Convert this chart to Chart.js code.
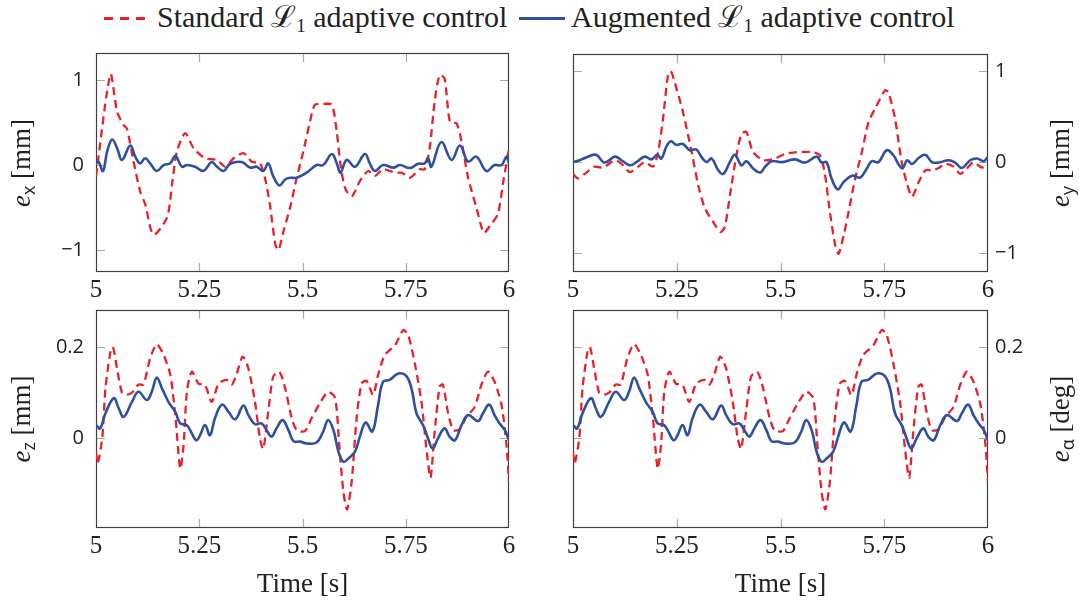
<!DOCTYPE html>
<html>
<head>
<meta charset="utf-8">
<script src="https://cdn.jsdelivr.net/npm/chart.js@4.4.1/dist/chart.umd.min.js"></script>
<style>
  body { margin: 0; width: 1079px; height: 605px; position: relative; overflow: hidden; background: #fff;
         font-family: "Liberation Serif", "DejaVu Serif", serif; color: #222; }
  canvas { position: absolute; }
  .ylab { position: absolute; font-size: 27px; white-space: nowrap; line-height: 1;
          transform: translate(-50%, -50%) rotate(-90deg); }
  .ylab i { font-style: italic; }
  .ylab sub { font-size: 18px; font-family: "Open Sans", sans-serif; vertical-align: -5px; }
  .leg { position: absolute; top: 1px; font-size: 30px; line-height: 32px; white-space: nowrap; }
  .leg sub { font-size: 19px; vertical-align: -5px; }
  .sw { position: absolute; top: 17px; height: 3px; }
  .sw.red { left: 104px; width: 42px; background: repeating-linear-gradient(to right, #e8202a 0 9px, transparent 9px 16px); }
  .sw.blue { left: 519px; width: 46px; background: #2f4fa0; }
</style>
</head>
<body>
<span class="sw red"></span>
<span class="leg" style="left:157px">Standard ℒ<sub>1</sub> adaptive control</span>
<span class="sw blue"></span>
<span class="leg" style="left:571px">Augmented ℒ<sub>1</sub> adaptive control</span>

<canvas id="pTL" width="530" height="287" style="left:0px;top:23px"></canvas>
<canvas id="pTR" width="530" height="286" style="left:549px;top:24px"></canvas>
<canvas id="pBL" width="530" height="325" style="left:0px;top:280px"></canvas>
<canvas id="pBR" width="530" height="325" style="left:549px;top:280px"></canvas>

<span class="ylab" style="left:22px;top:163px"><i>e</i><sub>x</sub> [mm]</span>
<span class="ylab" style="left:1061px;top:163px"><i>e</i><sub>y</sub> [mm]</span>
<span class="ylab" style="left:22px;top:419px"><i>e</i><sub>z</sub> [mm]</span>
<span class="ylab" style="left:1061px;top:419px"><i>e</i><sub>α</sub> [deg]</span>

<script>
const xTicks = [5, 5.25, 5.5, 5.75, 6];
const posTicks = [-1, 0, 1];
const angTicks = [0, 0.2];

// e_x
const exStdT = [5.000,5.035,5.051,5.067,5.075,5.091,5.107,5.119,5.139,5.172,5.184,5.196,5.216,5.236,5.264,5.293,5.313,5.333,5.357,5.377,5.397,5.409,5.421,5.434,5.442,5.454,5.470,5.486,5.502,5.518,5.530,5.550,5.571,5.583,5.591,5.603,5.619,5.639,5.659,5.675,5.695,5.724,5.740,5.760,5.784,5.796,5.808,5.820,5.832,5.844,5.857,5.873,5.885,5.901,5.921,5.939,5.953,5.973,5.985,6.000];
const exStdV = [-0.13,1.07,0.63,0.47,0.43,0.04,-0.31,-0.46,-0.82,-0.62,-0.23,0.16,0.375,0.2,0.08,0.06,-0.02,0.08,0.14,0.04,0.02,-0.15,-0.46,-0.93,-1.0,-0.78,-0.5,-0.15,0.16,0.51,0.71,0.72,0.71,0.39,0.04,-0.27,-0.37,-0.19,-0.07,-0.13,-0.05,-0.09,-0.09,-0.15,-0.05,-0.05,0.2,0.75,1.06,1.02,0.51,0.49,0.28,-0.15,-0.5,-0.8,-0.72,-0.58,-0.23,0.2];
const exAugT = [5.000,5.006,5.017,5.027,5.039,5.051,5.063,5.083,5.095,5.107,5.119,5.131,5.147,5.164,5.180,5.192,5.208,5.220,5.240,5.260,5.280,5.293,5.309,5.325,5.353,5.373,5.389,5.405,5.417,5.429,5.444,5.458,5.470,5.486,5.510,5.534,5.550,5.571,5.583,5.592,5.607,5.627,5.651,5.663,5.675,5.695,5.720,5.736,5.760,5.780,5.796,5.804,5.812,5.836,5.861,5.881,5.901,5.921,5.945,5.965,5.982,5.994,6.000];
const exAugV = [0.02,0.04,-0.07,0.16,0.3,0.2,0.06,0.23,0.1,0.02,0.08,0.02,-0.07,0.0,0.02,0.11,-0.02,0,-0.02,-0.07,0.035,-0.02,-0.07,0.015,0.035,-0.03,-0.02,-0.07,0.02,-0.13,-0.24,-0.17,-0.15,-0.15,-0.09,0,0,0.13,0.02,-0.09,0.06,-0.02,0.13,0.02,-0.07,0,-0.03,0,-0.035,0.015,0.02,0.08,-0.02,0.27,0.06,0.23,0.04,0.1,-0.07,0,0,0.1,0.02];

// e_y
const eyStdT = [5.000,5.012,5.028,5.052,5.072,5.101,5.117,5.137,5.157,5.173,5.193,5.205,5.217,5.229,5.236,5.245,5.265,5.286,5.302,5.318,5.338,5.356,5.366,5.378,5.394,5.406,5.418,5.434,5.459,5.487,5.511,5.543,5.575,5.595,5.607,5.619,5.632,5.640,5.652,5.664,5.680,5.696,5.712,5.728,5.752,5.760,5.776,5.792,5.805,5.817,5.833,5.849,5.865,5.881,5.897,5.917,5.933,5.949,5.965,5.981,6.000];
const eyStdV = [-0.13,-0.18,-0.13,-0.05,-0.06,0.02,-0.02,-0.11,-0.05,0,-0.05,0.11,0.48,0.96,1.0,0.88,0.55,0.11,-0.26,-0.51,-0.66,-0.77,-0.71,-0.37,0.08,0.31,0.33,0.11,0.02,0.04,0.09,0.11,0.11,0.075,-0.13,-0.55,-0.92,-1.01,-0.81,-0.55,-0.18,0.11,0.44,0.59,0.79,0.77,0.48,0,-0.24,-0.38,-0.22,-0.09,-0.09,-0.065,-0.02,-0.05,-0.13,-0.07,0,-0.05,-0.08];
const eyAugT = [5.000,5.016,5.036,5.056,5.076,5.101,5.117,5.137,5.153,5.173,5.189,5.203,5.213,5.225,5.236,5.249,5.265,5.281,5.297,5.309,5.322,5.334,5.350,5.362,5.378,5.390,5.406,5.418,5.434,5.451,5.463,5.479,5.503,5.535,5.559,5.587,5.599,5.611,5.623,5.638,5.652,5.672,5.692,5.708,5.720,5.736,5.756,5.772,5.784,5.794,5.805,5.817,5.833,5.849,5.865,5.881,5.905,5.921,5.937,5.957,5.973,5.990,6.000];
const eyAugV = [0,0.02,0.06,0.08,-0.005,0.06,0.02,-0.035,0,0.06,0.03,0.08,0.04,0.17,0.23,0.19,0.2,0.13,0.14,0.06,0,0.04,-0.09,-0.13,0,0.08,-0.035,0.01,-0.07,-0.115,-0.05,0.01,0,0.03,-0.005,0.06,-0.005,0,-0.18,-0.3,-0.22,-0.15,-0.17,-0.07,0.01,0,0.13,0.075,-0.02,-0.07,0.02,-0.02,0.045,0.08,0,-0.005,0.02,-0.005,-0.065,0.02,0.04,0.01,0.06];

// e_z
const ezStdT = [5.000,5.004,5.015,5.023,5.035,5.041,5.051,5.063,5.075,5.087,5.103,5.115,5.131,5.147,5.164,5.180,5.192,5.204,5.212,5.220,5.232,5.248,5.264,5.280,5.297,5.317,5.329,5.341,5.355,5.369,5.385,5.397,5.405,5.417,5.429,5.444,5.458,5.474,5.486,5.506,5.522,5.542,5.562,5.579,5.589,5.599,5.608,5.619,5.631,5.643,5.655,5.671,5.683,5.699,5.724,5.744,5.756,5.772,5.788,5.800,5.810,5.820,5.832,5.840,5.852,5.865,5.881,5.897,5.917,5.933,5.949,5.965,5.982,5.994,6.000];
const ezStdV = [-0.03,-0.055,0,0.11,0.19,0.2,0.153,0.1,0.096,0.1,0.118,0.118,0.175,0.206,0.182,0.139,0.051,-0.066,-0.015,0.102,0.146,0.12,0.117,0.08,0.12,0.128,0.118,0.142,0.179,0.153,0.08,0,-0.023,0.058,0.135,0.146,0.11,0.044,0.018,0.016,0.044,0.077,0.102,0.088,-0.015,-0.117,-0.155,-0.095,0.044,0.12,0.126,0.095,0.139,0.182,0.204,0.237,0.226,0.164,0.08,-0.022,-0.086,0.015,0.113,0.118,0.058,0.018,0.02,0.047,0.069,0.117,0.146,0.124,0.073,-0.015,-0.095];
const ezAugT = [5.000,5.010,5.023,5.043,5.055,5.067,5.087,5.103,5.123,5.135,5.147,5.160,5.176,5.192,5.204,5.220,5.232,5.243,5.252,5.264,5.276,5.288,5.305,5.321,5.337,5.357,5.369,5.385,5.401,5.413,5.425,5.437,5.452,5.466,5.478,5.494,5.510,5.534,5.550,5.562,5.575,5.587,5.599,5.611,5.627,5.639,5.653,5.669,5.683,5.695,5.711,5.732,5.751,5.764,5.776,5.792,5.804,5.815,5.828,5.844,5.856,5.869,5.885,5.901,5.925,5.937,5.952,5.965,5.977,5.990,6.000];
const ezAugV = [0.029,0.022,0.055,0.088,0.066,0.047,0.08,0.102,0.084,0.102,0.133,0.109,0.079,0.058,0.033,0.029,0.011,-0.004,0.007,0.029,0.007,0.044,0.074,0.058,0.042,0.072,0.051,0.031,0.033,0.018,0.004,0.022,0.04,0.018,-0.006,-0.007,-0.011,-0.009,0.015,0.04,0.018,-0.029,-0.051,-0.044,-0.029,0.004,0.035,0.015,0.073,0.124,0.128,0.142,0.137,0.109,0.055,0.029,0,-0.022,0,0.022,0.004,-0.004,0.029,0.051,0.038,0.055,0.074,0.051,0.033,0.018,-0.004];

// e_alpha: the figure shows the same traces as e_z
const eaStdT = ezStdT, eaStdV = ezStdV;
const eaAugT = ezAugT, eaAugV = ezAugV;

const red = '#e8202a';
const blue = '#2f4fa0';
const serif = '"Liberation Serif", "DejaVu Serif", serif';
const sans = '"Open Sans", "Noto Sans", sans-serif';

function pts(ts, vs) {
  return ts.map((t, i) => ({x: t, y: vs[i]}));
}

function minus(v) {
  return v < 0 ? '\u2212' + Math.abs(v) : String(v);
}

// pgfplots-like frame with grey ticks pointing inward on all four sides
const frameTicks = {
  id: 'frameTicks',
  beforeDatasetsDraw(chart) {
    const {ctx, chartArea: a, scales} = chart;
    ctx.save();
    ctx.strokeStyle = '#a8a8a8';
    ctx.lineWidth = 1.2;
    ctx.beginPath();
    scales.x.ticks.forEach(t => {
      if (t.value <= scales.x.min || t.value >= scales.x.max) return;
      const px = Math.round(scales.x.getPixelForValue(t.value)) + 0.5;
      ctx.moveTo(px, a.top); ctx.lineTo(px, a.top + 9);
      ctx.moveTo(px, a.bottom); ctx.lineTo(px, a.bottom - 9);
    });
    scales.y.ticks.forEach(t => {
      const py = Math.round(scales.y.getPixelForValue(t.value)) + 0.5;
      ctx.moveTo(a.left, py); ctx.lineTo(a.left + 9, py);
      ctx.moveTo(a.right, py); ctx.lineTo(a.right - 9, py);
    });
    ctx.stroke();
    ctx.strokeStyle = '#404040';
    ctx.lineWidth = 1.2;
    ctx.strokeRect(a.left + 0.5, a.top + 0.5, a.width - 1, a.height - 1);
    ctx.restore();
  }
};

function makePanel(id, stdT, stdV, augT, augV, yMin, yMax, yTicks, side, bottomRow, pad) {
  return new Chart(id, {
    type: 'line',
    data: {
      datasets: [
        { label: 'Augmented', data: pts(augT, augV), borderColor: blue, borderWidth: 2.6,
          pointRadius: 0, tension: 0.4, order: 0 },
        { label: 'Standard', data: pts(stdT, stdV), borderColor: red, borderWidth: 2.3,
          borderDash: [8, 5], pointRadius: 0, tension: 0.25, order: 1 }
      ]
    },
    options: {
      responsive: false,
      animation: false,
      events: [],
      layout: { padding: pad },
      plugins: { legend: { display: false }, tooltip: { enabled: false } },
      scales: {
        x: {
          type: 'linear', min: 5, max: 6,
          grid: { display: false, drawTicks: false },
          border: { display: false },
          afterBuildTicks: s => { s.ticks = xTicks.map(v => ({value: v})); },
          afterFit: s => { s.height = bottomRow ? 77 : 38; },
          ticks: { font: { family: serif, size: 25 }, color: '#222', padding: 3,
                   maxRotation: 0, autoSkip: false, callback: v => String(v) },
          title: { display: bottomRow, text: 'Time [s]', color: '#222',
                   font: { family: serif, size: 27 }, padding: { top: 0, bottom: 4 } }
        },
        y: {
          type: 'linear', position: side, min: yMin, max: yMax,
          grid: { display: false, drawTicks: false },
          border: { display: false },
          afterBuildTicks: s => { s.ticks = yTicks.map(v => ({value: v})); },
          afterFit: s => { s.width = side === 'left' ? 96 : 91; },
          ticks: { font: { family: sans, size: 20 }, color: '#222',
                   padding: side === 'left' ? 12 : 7, callback: v => minus(v) }
        }
      }
    },
    plugins: [frameTicks]
  });
}

// top padding of 30 keeps the plot top clear of the y-axis label padding
makePanel('pTL', exStdT, exStdV, exAugT, exAugV, -1.26, 1.32, posTicks, 'left', false,
  { top: 30, right: 21, left: 0, bottom: 0 });
makePanel('pTR', eyStdT, eyStdV, eyAugT, eyAugV, -1.21, 1.19, posTicks, 'right', false,
  { top: 30, right: 0, left: 24, bottom: 0 });
makePanel('pBL', ezStdT, ezStdV, ezAugT, ezAugV, -0.196, 0.281, angTicks, 'left', true,
  { top: 30, right: 21, left: 0, bottom: 0 });
makePanel('pBR', eaStdT, eaStdV, eaAugT, eaAugV, -0.196, 0.281, angTicks, 'right', true,
  { top: 30, right: 0, left: 24, bottom: 0 });
</script>
</body>
</html>
